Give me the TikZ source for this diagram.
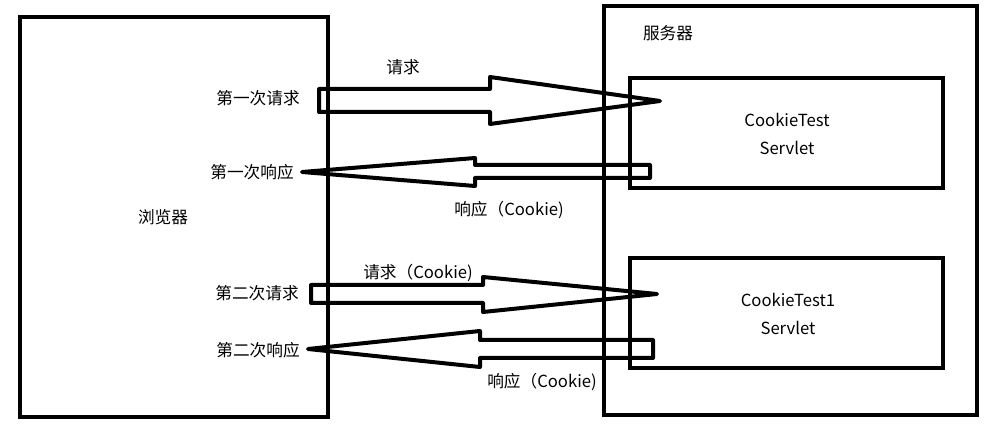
\documentclass[tikz,border=0pt]{standalone}
\usepackage{fontspec}
\setmainfont{Noto Sans CJK SC}
\begin{document}
\begin{tikzpicture}[x=0.75pt,y=-0.75pt,
  box/.style={draw=black,line width=3pt,inner sep=0pt,outer sep=0pt},
  blockarrow/.style={draw=black,line width=3pt,line join=round},
  lbl/.style={font=\fontsize{12.5pt}{15pt}\selectfont,inner sep=0pt,text=black},
  ]
\useasboundingbox (0,0) rectangle (1008,441);
% boxes
\node[box,minimum width=231pt,minimum height=300pt] (browser) at (174,217) {};
\node[box,minimum width=279.75pt,minimum height=306.75pt] (server) at (790.5,210.5) {};
\node[box,minimum width=234.75pt,minimum height=82.5pt] (s1) at (786.5,133) {};
\node[box,minimum width=234.75pt,minimum height=82.5pt] (s2) at (786.5,313) {};
% box texts
\node[lbl] (tb) at (163,217) {浏览器};
\node[lbl] (ts) at (668,33) {服务器};
\node[lbl,align=center,font=\fontsize{12.5pt}{21pt}\selectfont] (t1) at (787,134) {CookieTest\\Servlet};
\node[lbl,align=center,font=\fontsize{12.5pt}{21pt}\selectfont] (t2) at (788,314) {CookieTest1\\Servlet};
% side labels
\node[lbl,anchor=east] (l1) at (300,98) {第一次请求};
\node[lbl,anchor=east] (l2) at (294,172) {第一次响应};
\node[lbl,anchor=east] (l3) at (299,293) {第二次请求};
\node[lbl,anchor=east] (l4) at (300,350) {第二次响应};
% arrow labels
\node[lbl] (a1) at (403,67) {请求};
\node[lbl] (a2) at (509,210) {响应（Cookie)};
\node[lbl] (a3) at (418,273) {请求（Cookie)};
\node[lbl] (a4) at (542,382) {响应（Cookie)};
% block arrows
\draw[blockarrow] (319,89) -- (490,89) -- (490,77) -- (660,101) -- (490,124) -- (490,112) -- (319,112) -- cycle;
\draw[blockarrow] (302,172) -- (475,158) -- (475,165) -- (650,165) -- (650,178) -- (475,178) -- (475,186) -- cycle;
\draw[blockarrow] (311,285) -- (483,285) -- (483,277) -- (657,294) -- (483,312) -- (483,303) -- (311,303) -- cycle;
\draw[blockarrow] (308,349) -- (480,331) -- (480,340) -- (653,340) -- (653,358) -- (480,358) -- (480,367) -- cycle;
\end{tikzpicture}
\end{document}
